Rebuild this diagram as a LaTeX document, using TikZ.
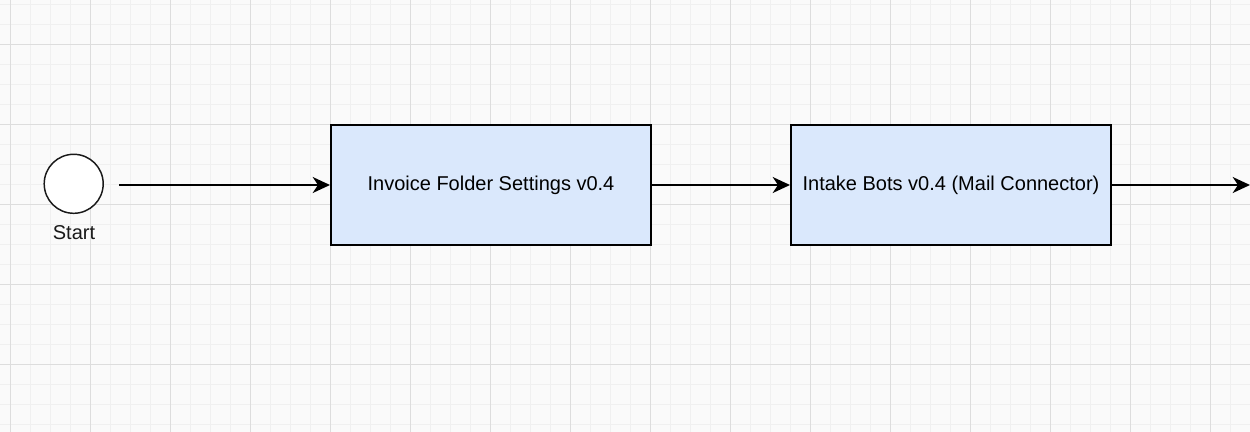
\documentclass[tikz,border=0pt]{standalone}
\usepackage{fontspec}
\setmainfont{Liberation Sans}
\usetikzlibrary{arrows.meta}
\definecolor{bgcol}{HTML}{FAFAFA}
\definecolor{minorgrid}{HTML}{F0F0F0}
\definecolor{majorgrid}{HTML}{DDDDDD}
\definecolor{boxfill}{HTML}{DAE8FC}
\tikzset{
  procbox/.style={draw=black, fill=boxfill, line width=1.5pt, minimum width=240pt, minimum height=90pt, inner sep=0pt, font=\fontsize{15pt}{18pt}\selectfont},
  startev/.style={circle, draw=black!90, fill=white, line width=1.1pt, minimum size=44.25pt, inner sep=0pt},
  flow/.style={line width=1.5pt, -{Stealth[length=13pt, width=12pt, inset=4pt]}},
}
\begin{document}
\begin{tikzpicture}[x=0.75pt, y=-0.75pt]
\fill[bgcol] (0,0) rectangle (1250,432);
\useasboundingbox (0,0) rectangle (1250,432);
% minor grid
\foreach \gx in {10,30,...,1250} \draw[minorgrid, line width=0.75pt] (\gx,0) -- (\gx,432);
\foreach \gy in {4,24,...,432} \draw[minorgrid, line width=0.75pt] (0,\gy) -- (1250,\gy);
% major grid
\foreach \gx in {10,90,...,1250} \draw[majorgrid, line width=0.75pt] (\gx,0) -- (\gx,432);
\foreach \gy in {44,124,...,432} \draw[majorgrid, line width=0.75pt] (0,\gy) -- (1250,\gy);

\node[startev] (start) at (73.7,183.8) {};
\node[font=\fontsize{15pt}{18pt}\selectfont, text=black!90] (startlbl) at (74,233) {Start};
\coordinate (startout) at (119,185);
\node[procbox] (ifs) at (491,185) {Invoice Folder Settings v0.4};
\node[procbox] (ib) at (951,185) {Intake Bots v0.4 (Mail Connector)};
\coordinate (endpt) at (1250,185);

\draw[flow] (startout) -- (ifs.west);
\draw[flow] (ifs.east) -- (ib.west);
\draw[flow] (ib.east) -- (endpt);
\end{tikzpicture}
\end{document}
